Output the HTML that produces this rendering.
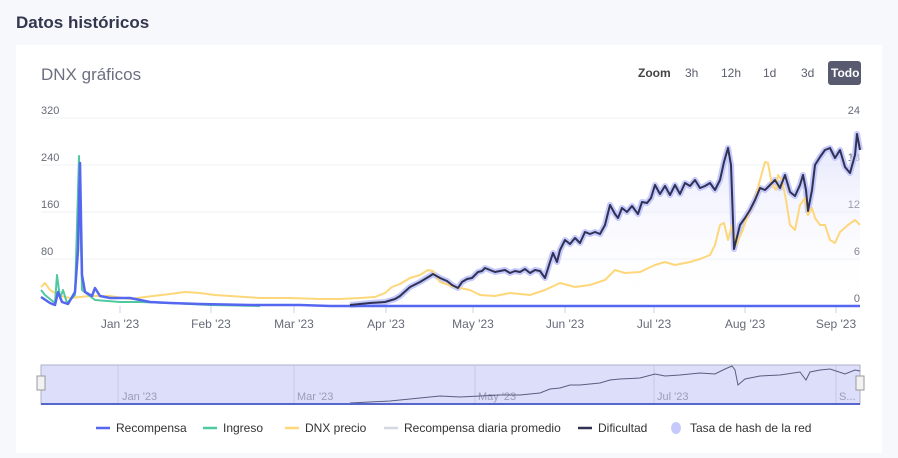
<!DOCTYPE html>
<html><head><meta charset="utf-8"><style>
body{margin:0;width:898px;height:453px;background:#f7f8fc;font-family:"Liberation Sans",sans-serif;overflow:hidden}
</style></head><body>
<svg width="898" height="453" xmlns="http://www.w3.org/2000/svg" font-family="Liberation Sans, sans-serif">
<defs><linearGradient id="g" x1="0" y1="0" x2="0" y2="1"><stop offset="0" stop-color="#d8dafa" stop-opacity=".7"/><stop offset="1" stop-color="#fff" stop-opacity="0"/></linearGradient></defs>
<text x="16" y="28" font-size="17" font-weight="bold" fill="#33374d">Datos históricos</text>
<rect x="16" y="45" width="866" height="420" fill="#fff"/>
<text x="41" y="80" font-size="17" fill="#6b6f80">DNX gráficos</text>
<g font-size="12" fill="#5a5e6e">
<text x="638" y="77" font-weight="bold" fill="#444">Zoom</text>
<text x="685" y="77">3h</text><text x="721" y="77">12h</text><text x="763" y="77">1d</text><text x="801" y="77">3d</text>
<rect x="828" y="61" width="33" height="24" rx="3" fill="#585b70"/>
<text x="831" y="77" font-weight="bold" fill="#fff">Todo</text>
</g>
<g stroke="#eef0f4" stroke-width="1">
<line x1="41" y1="118" x2="860" y2="118"/><line x1="41" y1="165" x2="860" y2="165"/><line x1="41" y1="212" x2="860" y2="212"/><line x1="41" y1="259" x2="860" y2="259"/>
</g>
<g font-size="11" fill="#666a78">
<text x="41" y="114">320</text><text x="41" y="161">240</text><text x="41" y="208">160</text><text x="41" y="255">80</text>
<text x="860" y="114" text-anchor="end">24</text><text x="860" y="161" text-anchor="end">18</text><text x="860" y="208" text-anchor="end">12</text><text x="860" y="255" text-anchor="end">6</text><text x="860" y="302" text-anchor="end">0</text>
</g>
<g font-size="12" fill="#666a78" text-anchor="middle">
<text x="120" y="328">Jan '23</text><text x="211" y="328">Feb '23</text><text x="294" y="328">Mar '23</text><text x="386" y="328">Apr '23</text><text x="473" y="328">May '23</text><text x="565" y="328">Jun '23</text><text x="654" y="328">Jul '23</text><text x="745" y="328">Aug '23</text><text x="836" y="328">Sep '23</text>
</g>
<g stroke="#ccd3e6"><line x1="120" y1="306" x2="120" y2="313"/><line x1="211" y1="306" x2="211" y2="313"/><line x1="294" y1="306" x2="294" y2="313"/><line x1="386" y1="306" x2="386" y2="313"/><line x1="473" y1="306" x2="473" y2="313"/><line x1="565" y1="306" x2="565" y2="313"/><line x1="654" y1="306" x2="654" y2="313"/><line x1="745" y1="306" x2="745" y2="313"/><line x1="836" y1="306" x2="836" y2="313"/></g>
<path id="dp" d="M41,306 L350,305 370,303 385,302 395,299 400,296 410,287 420,282 430,276 433,274 440,278 447,281 452,285 458,288 462,282 467,279 472,278 478,272 482,271 485,268 490,270 495,272 500,271 505,270 510,273 515,271 520,272 525,269 530,273 535,270 540,271 545,278 550,262 553,253 557,262 560,250 565,240 570,244 575,238 580,243 585,232 590,234 595,232 600,234 605,225 610,205 615,214 618,218 622,208 627,212 632,206 638,214 642,202 647,203 651,198 655,185 660,194 665,186 670,195 675,185 680,194 685,183 690,186 695,180 700,188 705,186 710,183 715,190 720,180 724,162 728,148 731,165 734,249 740,225 745,218 750,210 755,200 760,188 765,190 770,185 775,180 780,188 785,175 790,192 795,196 800,185 803,175 806,190 808,211 812,190 815,165 820,157 825,150 830,148 835,158 840,150 845,167 850,173 855,155 857,134 860,150 L860,306 Z" fill="url(#g)"/>
<polyline fill="none" stroke="#c5c9fb" stroke-width="6" stroke-linejoin="round" points="350,305 370,303 385,302 395,299 400,296 410,287 420,282 430,276 433,274 440,278 447,281 452,285 458,288 462,282 467,279 472,278 478,272 482,271 485,268 490,270 495,272 500,271 505,270 510,273 515,271 520,272 525,269 530,273 535,270 540,271 545,278 550,262 553,253 557,262 560,250 565,240 570,244 575,238 580,243 585,232 590,234 595,232 600,234 605,225 610,205 615,214 618,218 622,208 627,212 632,206 638,214 642,202 647,203 651,198 655,185 660,194 665,186 670,195 675,185 680,194 685,183 690,186 695,180 700,188 705,186 710,183 715,190 720,180 724,162 728,148 731,165 734,249 740,225 745,218 750,210 755,200 760,188 765,190 770,185 775,180 780,188 785,175 790,192 795,196 800,185 803,175 806,190 808,211 812,190 815,165 820,157 825,150 830,148 835,158 840,150 845,167 850,173 855,155 857,134 860,150"/>
<polyline fill="none" stroke="#fdd77a" stroke-width="2" stroke-linejoin="round" points="41,287 45,283 50,290 60,296 70,298 90,296 110,296 130,299 145,297 170,294 185,292 200,293 215,295 230,296 260,298 290,298 320,299 340,299 360,298 375,297 385,293 392,287 400,284 410,278 420,275 428,270 433,271 440,282 455,287 470,290 480,295 495,296 510,293 530,295 545,290 560,283 575,287 590,285 605,280 615,270 625,273 640,272 655,265 665,262 675,265 690,262 700,259 710,255 715,245 720,225 724,223 728,240 732,225 736,245 742,232 748,215 755,200 760,180 765,162 768,163 772,185 776,190 778,175 782,180 786,200 790,225 795,230 800,205 805,198 808,215 812,208 815,218 820,225 825,225 830,240 835,243 840,232 848,225 855,220 860,225"/>
<polyline fill="none" stroke="#4fc9a0" stroke-width="2" stroke-linejoin="round" points="41,290 45,295 55,303 57,275 60,298 63,290 67,303 75,295 79,156 82,290 95,300 120,302 140,302 170,303 210,305 260,306"/>
<polyline fill="none" stroke="#5566f0" stroke-width="2.5" stroke-linejoin="round" points="41,297 50,303 55,305 58,292 62,302 68,304 75,292 78,250 80,163 82,275 85,292 92,296 95,288 100,296 110,298 130,298 150,302 170,303 200,304 250,305 300,305 330,306 860,306"/>
<polyline fill="none" stroke="#2f3255" stroke-width="2" stroke-linejoin="round" points="350,305 370,303 385,302 395,299 400,296 410,287 420,282 430,276 433,274 440,278 447,281 452,285 458,288 462,282 467,279 472,278 478,272 482,271 485,268 490,270 495,272 500,271 505,270 510,273 515,271 520,272 525,269 530,273 535,270 540,271 545,278 550,262 553,253 557,262 560,250 565,240 570,244 575,238 580,243 585,232 590,234 595,232 600,234 605,225 610,205 615,214 618,218 622,208 627,212 632,206 638,214 642,202 647,203 651,198 655,185 660,194 665,186 670,195 675,185 680,194 685,183 690,186 695,180 700,188 705,186 710,183 715,190 720,180 724,162 728,148 731,165 734,249 740,225 745,218 750,210 755,200 760,188 765,190 770,185 775,180 780,188 785,175 790,192 795,196 800,185 803,175 806,190 808,211 812,190 815,165 820,157 825,150 830,148 835,158 840,150 845,167 850,173 855,155 857,134 860,150"/>
<!-- navigator -->
<rect x="41" y="365" width="819" height="39" fill="#dcdefa" stroke="#b0b2c8"/>
<g stroke="#c8cae0"><line x1="118" y1="365" x2="118" y2="404"/><line x1="294" y1="365" x2="294" y2="404"/><line x1="475" y1="365" x2="475" y2="404"/><line x1="654" y1="365" x2="654" y2="404"/><line x1="836" y1="365" x2="836" y2="404"/></g>
<g font-size="11" fill="#9a9cb8"><text x="122" y="400">Jan '23</text><text x="297" y="400">Mar '23</text><text x="478" y="400">May '23</text><text x="657" y="400">Jul '23</text><text x="839" y="400">S...</text></g>
<polyline fill="none" stroke="#5a5d80" stroke-width="1" points="350,403 390,401 420,398 440,396 460,397 480,396 500,395 520,395 540,393 550,389 560,388 570,385 580,385 600,383 610,380 620,379 640,378 655,374 665,376 680,375 700,373 715,374 725,369 732,366 735,370 738,385 745,379 760,376 780,375 800,372 806,380 810,372 820,370 830,369 845,374 855,370 860,371"/>
<line x1="41" y1="404" x2="860" y2="404" stroke="#5566cc" stroke-width="2"/>
<rect x="37" y="376" width="8" height="14" fill="#f2f2f2" stroke="#999"/><rect x="856" y="376" width="8" height="14" fill="#f2f2f2" stroke="#999"/>
<!-- legend -->
<g font-size="12" fill="#333">
<line x1="96" y1="428" x2="110" y2="428" stroke="#5566f0" stroke-width="2.5"/><text x="116" y="432">Recompensa</text>
<line x1="203" y1="428" x2="217" y2="428" stroke="#4fc9a0" stroke-width="2.5"/><text x="223" y="432">Ingreso</text>
<line x1="285" y1="428" x2="299" y2="428" stroke="#fdd77a" stroke-width="2.5"/><text x="305" y="432">DNX precio</text>
<line x1="384" y1="428" x2="398" y2="428" stroke="#d6d7e4" stroke-width="2.5"/><text x="404" y="432">Recompensa diaria promedio</text>
<line x1="578" y1="428" x2="592" y2="428" stroke="#2f3255" stroke-width="2.5"/><text x="598" y="432">Dificultad</text>
<ellipse cx="676" cy="428" rx="5" ry="6" fill="#c5c9fb"/><text x="690" y="432">Tasa de hash de la red</text>
</g>
</svg>
</body></html>
